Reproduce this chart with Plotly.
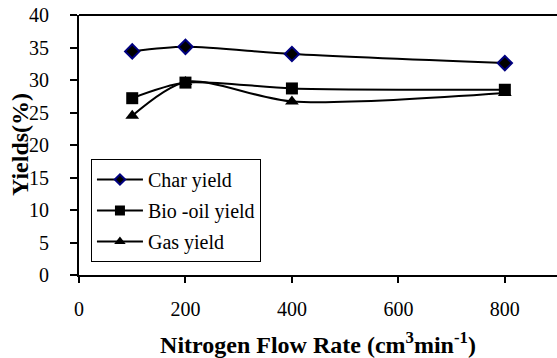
import plotly.graph_objects as go

flow = [100, 200, 400, 800]
char_yield = [34.4, 35.1, 34.0, 32.6]
biooil_yield = [27.2, 29.6, 28.7, 28.5]
gas_yield = [24.5, 29.7, 26.7, 28.0]

x_ticks = [0, 200, 400, 600, 800]
y_ticks = [0, 5, 10, 15, 20, 25, 30, 35, 40]

series = [
    ("Char yield", char_yield, dict(symbol="diamond", color="black", line=dict(color="#000080", width=2)), 11, 8),
    ("Bio -oil yield", biooil_yield, dict(symbol="square", color="black"), 12, 10),
    ("Gas yield", gas_yield, dict(symbol="triangle-up", color="black"), 12, 10),
]

FONT = "Liberation Serif, Times New Roman, serif"

fig = go.Figure()
for i, (name, vals, mk, size, lsize) in enumerate(series):
    fig.add_trace(go.Scatter(
        x=flow, y=vals, name=name, mode="lines+markers", showlegend=False,
        line=dict(color="black", width=2, shape="spline", smoothing=0.8),
        marker=dict(size=size, **mk), legendgroup=name))
    # legend-only entry with smaller symbol, like the reference legend
    fig.add_trace(go.Scatter(
        x=[None], y=[None], name=name, mode="lines+markers", showlegend=True,
        line=dict(color="black", width=2),
        marker=dict(size=lsize, **mk), legendgroup=name))

fig.update_layout(
    width=557, height=358,
    margin=dict(l=79, r=0, t=15, b=83),
    paper_bgcolor="white", plot_bgcolor="white",
    font=dict(family=FONT, size=20, color="black"),
    showlegend=True,
    legend=dict(x=0.025, y=0.05, xanchor="left", yanchor="bottom",
                bordercolor="black", borderwidth=1, bgcolor="white",
                font=dict(family=FONT, size=20, color="black"),
                itemwidth=46, tracegroupgap=2),
    xaxis=dict(range=[0, 898], tickvals=x_ticks, ticks="outside", ticklen=6,
               tickcolor="black", tickwidth=1.5, showgrid=False, zeroline=False,
               showline=True, linecolor="black", linewidth=2, mirror=False,
               tickfont=dict(family=FONT, size=20), ticklabelstandoff=9,
               title=dict(text="<b>Nitrogen Flow Rate (cm<sup>3</sup>min<sup>-1</sup>)</b>",
                          font=dict(family=FONT, size=24), standoff=19)),
    yaxis=dict(range=[0, 40], tickvals=y_ticks, ticks="outside", ticklen=7,
               tickcolor="black", tickwidth=1.5, showgrid=False, zeroline=False,
               showline=True, linecolor="black", linewidth=2, mirror=False,
               tickfont=dict(family=FONT, size=20), ticklabelstandoff=17),
)
fig.add_annotation(text="<b>Yields(%)</b>", xref="paper", yref="paper", x=0, y=0.5,
                   xanchor="center", yanchor="middle", xshift=-59, textangle=-90,
                   showarrow=False, font=dict(family=FONT, size=24, color="black"))
fig.add_shape(type="line", xref="paper", yref="paper", x0=0, x1=1, y0=1, y1=1,
              line=dict(color="black", width=2))

fig.write_html("out.html")
